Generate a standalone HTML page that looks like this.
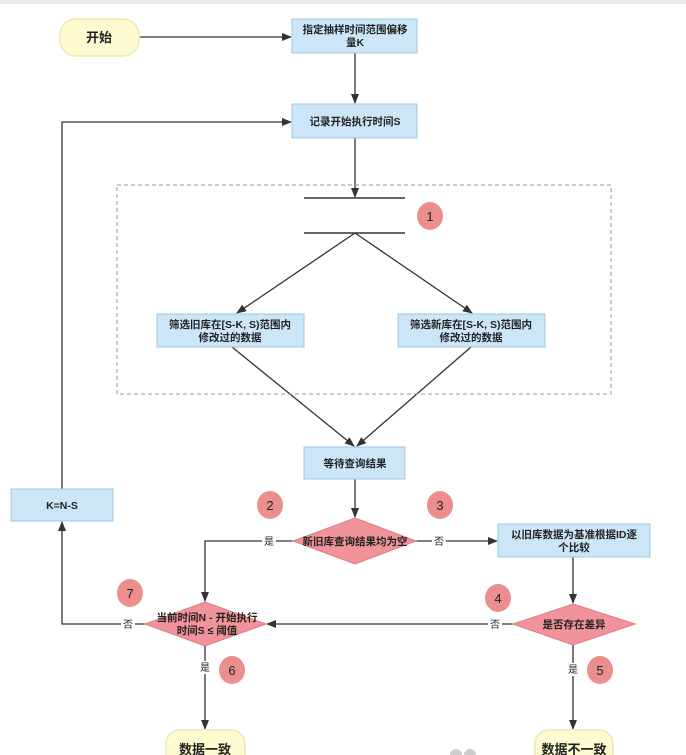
<!DOCTYPE html>
<html><head><meta charset="utf-8"><style>
html,body{margin:0;padding:0;background:#fff;}
svg{display:block;}
text{font-family:"Liberation Sans","Noto Sans CJK SC",sans-serif;fill:#222;}
</style></head><body>
<svg width="686" height="755" viewBox="0 0 686 755" xmlns="http://www.w3.org/2000/svg">
<defs>
<marker id="a" markerWidth="10" markerHeight="10" refX="9" refY="5" orient="auto" markerUnits="userSpaceOnUse">
<path d="M0,1 L10,5 L0,9 Z" fill="#333"/></marker>
</defs>
<rect x="0" y="0" width="686" height="4" fill="#ececec"/>
<g stroke="#333" stroke-width="1.3" fill="none">
<line x1="140" y1="37" x2="291" y2="37" marker-end="url(#a)"/>
<line x1="355" y1="53" x2="355" y2="103" marker-end="url(#a)"/>
<polyline points="62,489 62,122 291,122" marker-end="url(#a)"/>
<line x1="355" y1="138" x2="355" y2="197" marker-end="url(#a)"/>
<line x1="304" y1="198" x2="405" y2="198" stroke-width="1.6"/>
<line x1="304" y1="233" x2="405" y2="233" stroke-width="1.6"/>
<line x1="355" y1="233" x2="237" y2="313" marker-end="url(#a)"/>
<line x1="355" y1="233" x2="472" y2="313" marker-end="url(#a)"/>
<line x1="232" y1="347" x2="354" y2="446" marker-end="url(#a)"/>
<line x1="471" y1="347" x2="357" y2="446" marker-end="url(#a)"/>
<line x1="355" y1="479" x2="355" y2="517" marker-end="url(#a)"/>
<polyline points="293,541 205,541 205,601" marker-end="url(#a)"/>
<line x1="416" y1="541" x2="497" y2="541" marker-end="url(#a)"/>
<line x1="573" y1="557" x2="573" y2="603" marker-end="url(#a)"/>
<line x1="513" y1="624" x2="267" y2="624" marker-end="url(#a)"/>
<polyline points="145,624 62,624 62,522" marker-end="url(#a)"/>
<line x1="205" y1="646" x2="205" y2="729" marker-end="url(#a)"/>
<line x1="573" y1="645" x2="573" y2="729" marker-end="url(#a)"/>
</g>
<rect x="117" y="185" width="494" height="209" fill="none" stroke="#a8928a" stroke-width="1" stroke-dasharray="4,3"/>
<rect x="60" y="19" width="79" height="37" rx="16" fill="#fdfbcf" stroke="#efe8b4" stroke-width="1.5"/>
<text x="99" y="42" font-size="13" text-anchor="middle" font-weight="bold">开始</text>
<g fill="#cce6f8" stroke="#9cc8e6" stroke-width="1">
<rect x="292" y="19" width="125" height="34"/>
<rect x="292" y="104" width="125" height="34"/>
<rect x="157" y="314" width="147" height="33"/>
<rect x="398" y="314" width="147" height="33"/>
<rect x="304" y="447" width="101" height="32"/>
<rect x="11" y="489" width="102" height="32"/>
<rect x="498" y="524" width="152" height="33"/>
</g>
<g font-size="10.5" text-anchor="middle" font-weight="bold">
<text x="355" y="33">指定抽样时间范围偏移</text><text x="355" y="46">量K</text>
<text x="355" y="125">记录开始执行时间S</text>
<text x="230" y="328">筛选旧库在[S-K, S)范围内</text><text x="230" y="341">修改过的数据</text>
<text x="471" y="328">筛选新库在[S-K, S)范围内</text><text x="471" y="341">修改过的数据</text>
<text x="355" y="467">等待查询结果</text>
<text x="62" y="509">K=N-S</text>
<text x="574" y="538">以旧库数据为基准根据ID逐</text><text x="574" y="551">个比较</text>
</g>
<g fill="#f1939a" stroke="#e27b84" stroke-width="1">
<polygon points="355,518 416,541 355,564 293,541"/>
<polygon points="205,602 266,624 205,646 145,624"/>
<polygon points="573,604 635,624 573,645 513,624"/>
</g>
<g font-size="10.5" text-anchor="middle" font-weight="bold">
<text x="355" y="545">新旧库查询结果均为空</text>
<text x="207" y="621">当前时间N - 开始执行</text><text x="207" y="634">时间S ≤ 阈值</text>
<text x="574" y="628">是否存在差异</text>
</g>
<g font-size="10" text-anchor="middle" fill="#444">
<rect x="262" y="535" width="14" height="13" fill="#fff"/><text x="269" y="545">是</text>
<rect x="432" y="535" width="14" height="13" fill="#fff"/><text x="439" y="545">否</text>
<rect x="488" y="618" width="14" height="13" fill="#fff"/><text x="495" y="628">否</text>
<rect x="121" y="618" width="14" height="13" fill="#fff"/><text x="128" y="628">否</text>
<rect x="198" y="661" width="14" height="13" fill="#fff"/><text x="205" y="671">是</text>
<rect x="566" y="663" width="14" height="13" fill="#fff"/><text x="573" y="673">是</text>
</g>
<g fill="#ec8e8e">
<ellipse cx="430" cy="216" rx="13" ry="14"/>
<ellipse cx="270" cy="505" rx="13" ry="14"/>
<ellipse cx="440" cy="505" rx="13" ry="14"/>
<ellipse cx="130" cy="593" rx="13" ry="14"/>
<ellipse cx="498" cy="598" rx="13" ry="14"/>
<ellipse cx="232" cy="670" rx="13" ry="14"/>
<ellipse cx="600" cy="670" rx="13" ry="14"/>
</g>
<g font-size="13" text-anchor="middle">
<text x="430" y="221">1</text><text x="270" y="510">2</text><text x="440" y="510">3</text>
<text x="130" y="598">7</text><text x="498" y="603">4</text><text x="232" y="675">6</text><text x="600" y="675">5</text>
</g>
<rect x="166" y="730" width="79" height="40" rx="14" fill="#fdfbcf" stroke="#efe8b4" stroke-width="1.5"/>
<rect x="535" y="730" width="78" height="40" rx="14" fill="#fdfbcf" stroke="#efe8b4" stroke-width="1.5"/>
<text x="205" y="754" font-size="13" text-anchor="middle" font-weight="bold">数据一致</text>
<text x="574" y="754" font-size="13" text-anchor="middle" font-weight="bold">数据不一致</text>
<circle cx="456" cy="755" r="6" fill="#ccc"/><circle cx="470" cy="755" r="6" fill="#ccc"/>
</svg>
</body></html>
